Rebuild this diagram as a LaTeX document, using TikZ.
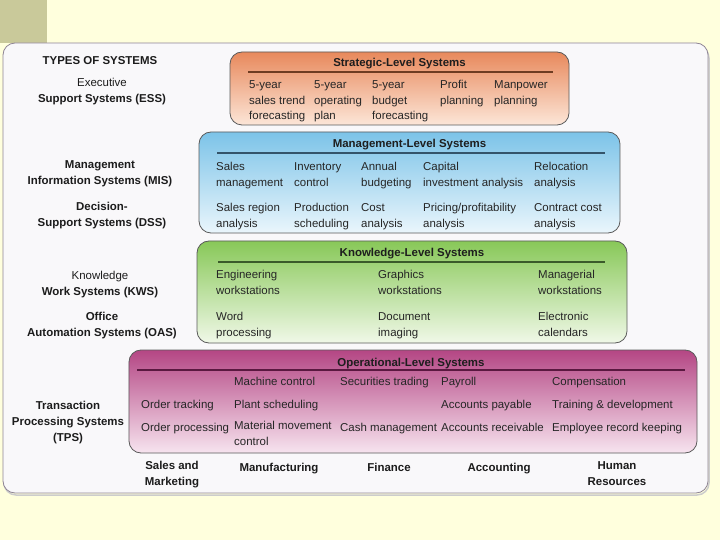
\documentclass[tikz,border=0pt]{standalone}
\usepackage{fontspec}
\setmainfont{Liberation Sans}
\definecolor{bgc}{HTML}{FFFFDD}
\definecolor{olivesq}{HTML}{C9C99A}
\definecolor{panelfill}{HTML}{F9F8FA}
\definecolor{panelline}{HTML}{8E8494}
\definecolor{boxline}{HTML}{5A5A5A}
\definecolor{txt}{HTML}{262626}
\definecolor{lbltxt}{HTML}{1C1C1C}
\definecolor{hdrtxt}{HTML}{1E1E1E}
\definecolor{stratTop}{HTML}{E8895C}
\definecolor{stratBot}{HTML}{FCE6D8}
\definecolor{stratLine}{HTML}{6E3C22}
\definecolor{mgmtTop}{HTML}{7CC3E8}
\definecolor{mgmtBot}{HTML}{EAF6FC}
\definecolor{mgmtLine}{HTML}{34546A}
\definecolor{knowTop}{HTML}{88C858}
\definecolor{knowBot}{HTML}{F0F8E8}
\definecolor{knowLine}{HTML}{3A5A2A}
\definecolor{operTop}{HTML}{B44684}
\definecolor{operBot}{HTML}{F7E4EF}
\definecolor{operLine}{HTML}{5A1840}
\newcommand\fstrut{\rule{0pt}{10bp}}
\begin{document}
\begin{tikzpicture}[x=1bp,y=-1bp,
  cell/.style={anchor=north west,inner sep=0pt,align=left,
    font=\fontsize{11.5}{16}\selectfont,text=txt,execute at begin node=\fstrut},
  lbl/.style={anchor=north,inner sep=0pt,align=center,
    font=\fontsize{11.5}{16}\selectfont\bfseries,text=lbltxt,execute at begin node=\fstrut},
  blbl/.style={anchor=north,inner sep=0pt,align=center,
    font=\fontsize{11.5}{16}\selectfont\bfseries,text=lbltxt,execute at begin node=\fstrut},
  hdr/.style={anchor=base,inner sep=0pt,font=\fontsize{11.5}{13}\selectfont\bfseries,text=hdrtxt},
  lvl/.style={draw=boxline,line width=0.8bp,rounded corners=12bp,inner sep=0pt},
  sepline/.style={line width=1.1bp}
]
\useasboundingbox (0,0) rectangle (720,540);
\fill[bgc] (0,0) rectangle (720,540);
\fill[olivesq] (0,0) rectangle (47,43);
% outer panel
\draw[gray!40,line width=1.5bp,rounded corners=12bp] (4,46) rectangle (709,495);
\draw[panelline,fill=panelfill,line width=0.8bp,rounded corners=12bp] (3,43) rectangle (708,493);

% level boxes
\node[lvl,top color=stratTop,bottom color=stratBot,minimum width=339bp,minimum height=73bp] (strat) at (399.5,88.5) {};
\node[lvl,top color=mgmtTop,bottom color=mgmtBot,minimum width=421bp,minimum height=101bp] (mgmt) at (409.5,182.5) {};
\node[lvl,top color=knowTop,bottom color=knowBot,minimum width=430bp,minimum height=102bp] (know) at (412,292) {};
\node[lvl,top color=operTop,bottom color=operBot,minimum width=568bp,minimum height=103bp] (oper) at (413,401.5) {};

% headers
\node[hdr] (stratH) at (399.5,67) {Strategic-Level Systems};
\node[hdr] (mgmtH) at (409.5,148) {Management-Level Systems};
\node[hdr] (knowH) at (412,257) {Knowledge-Level Systems};
\node[hdr] (operH) at (411,366) {Operational-Level Systems};
\coordinate (s1) at (248,72); \coordinate (s2) at (553,72);
\coordinate (m1) at (217,153); \coordinate (m2) at (605,153);
\coordinate (k1) at (218,262); \coordinate (k2) at (605,262);
\coordinate (o1) at (137,370); \coordinate (o2) at (685,370);
\draw[sepline,stratLine] (s1) -- (s2);
\draw[sepline,mgmtLine] (m1) -- (m2);
\draw[sepline,knowLine] (k1) -- (k2);
\draw[sepline,operLine] (o1) -- (o2);

% left labels
\node[lbl] (types) at (100,54) {TYPES OF SYSTEMS};
\node[lbl] (ess) at (102,78) {{\mdseries Executive}\\Support Systems (ESS)};
\node[lbl] (mis) at (100,160.5) {Management\\Information Systems (MIS)};
\node[lbl] (dss) at (102,202) {Decision-\\Support Systems (DSS)};
\node[lbl] (kws) at (100,271) {{\mdseries Knowledge}\\Work Systems (KWS)};
\node[lbl] (oas) at (102,312) {Office\\Automation Systems (OAS)};
\node[lbl] (tps) at (68,401) {Transaction\\Processing Systems\\(TPS)};

% strategic cells
\node[cell] (st1) at (249,80) {5-year\\sales trend\\forecasting};
\node[cell] (st2) at (314,80) {5-year\\operating\\plan};
\node[cell] (st3) at (372,80) {5-year\\budget\\forecasting};
\node[cell] (st4) at (440,80) {Profit\\planning};
\node[cell] (st5) at (494,80) {Manpower\\planning};

% management cells
\node[cell] (ma1) at (216,162) {Sales\\management};
\node[cell] (ma2) at (294,162) {Inventory\\control};
\node[cell] (ma3) at (361,162) {Annual\\budgeting};
\node[cell] (ma4) at (423,162) {Capital\\investment analysis};
\node[cell] (ma5) at (534,162) {Relocation\\analysis};
\node[cell] (mb1) at (216,203) {Sales region\\analysis};
\node[cell] (mb2) at (294,203) {Production\\scheduling};
\node[cell] (mb3) at (361,203) {Cost\\analysis};
\node[cell] (mb4) at (423,203) {Pricing/profitability\\analysis};
\node[cell] (mb5) at (534,203) {Contract cost\\analysis};

% knowledge cells
\node[cell] (ka1) at (216,270) {Engineering\\workstations};
\node[cell] (ka2) at (378,270) {Graphics\\workstations};
\node[cell] (ka3) at (538,270) {Managerial\\workstations};
\node[cell] (kb1) at (216,312) {Word\\processing};
\node[cell] (kb2) at (378,312) {Document\\imaging};
\node[cell] (kb3) at (538,312) {Electronic\\calendars};

% operational cells
\node[cell] (oa2) at (234,375) {Machine control};
\node[cell] (oa3) at (340,375) {Securities trading};
\node[cell] (oa4) at (441,375) {Payroll};
\node[cell] (oa5) at (552,375) {Compensation};
\node[cell] (ob1) at (141,398) {Order tracking};
\node[cell] (ob2) at (234,398) {Plant scheduling};
\node[cell] (ob4) at (441,398) {Accounts payable};
\node[cell] (ob5) at (552,398) {Training \& development};
\node[cell] (oc1) at (141,421) {Order processing};
\node[cell] (oc2) at (234,421) {Material movement\\control};
\node[cell] (oc3) at (340,421) {Cash management};
\node[cell] (oc4) at (441,421) {Accounts receivable};
\node[cell] (oc5) at (552,421) {Employee record keeping};

% functional areas
\node[blbl] (fsm) at (172,461) {Sales and\\Marketing};
\node[blbl] (fmf) at (279,461) {Manufacturing};
\node[blbl] (ffi) at (389,461) {Finance};
\node[blbl] (fac) at (499,461) {Accounting};
\node[blbl] (fhr) at (617,461) {Human\\Resources};
\end{tikzpicture}
\end{document}
